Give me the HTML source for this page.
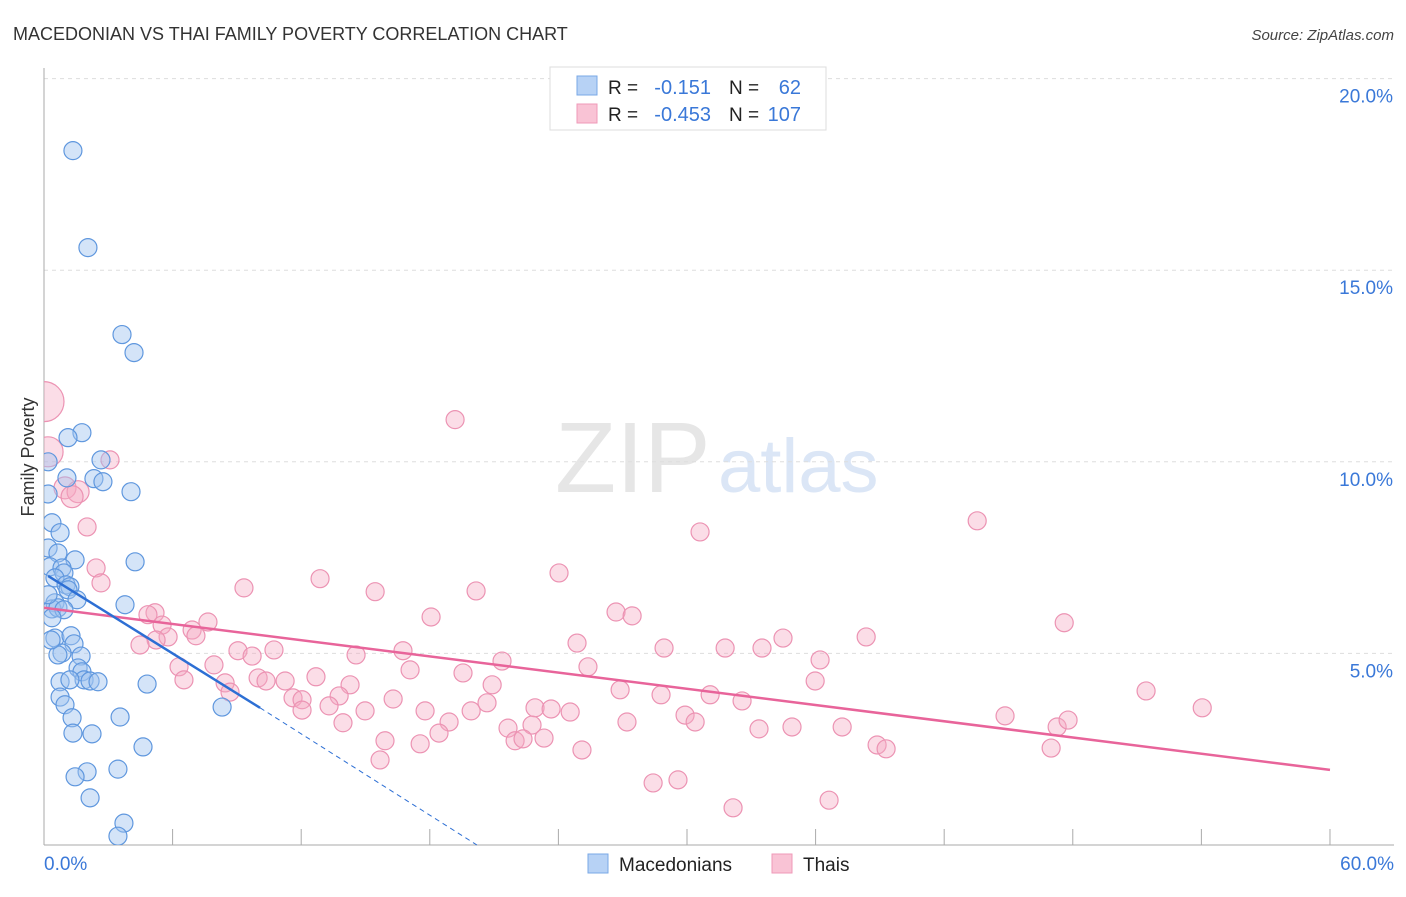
<!DOCTYPE html>
<html><head><meta charset="utf-8"><style>
body{margin:0;background:#fff;font-family:"Liberation Sans",sans-serif}
svg text{font-family:"Liberation Sans",sans-serif}
</style></head><body>
<svg id="c" width="1406" height="892"><defs><clipPath id="plot"><rect x="44" y="60" width="1360" height="785"/></clipPath></defs></svg>
<script>
const blueX=[1.35,2.05,3.64,4.20,1.77,1.12,0.19,2.66,1.07,2.33,2.75,4.06,0.19,0.37,0.75,0.19,0.65,1.45,4.25,0.28,0.84,0.93,0.51,1.03,1.21,1.12,1.54,0.51,0.37,0.65,0.93,3.78,0.37,0.51,1.26,1.40,0.84,0.65,1.73,1.59,1.77,1.87,0.75,1.21,2.15,2.52,4.81,0.75,0.98,8.31,1.31,3.55,1.35,2.24,4.62,2.01,1.45,3.45,2.15,3.73,3.45,0.33,0.19];
const blueY=[18.12,15.59,13.32,12.85,10.76,10.63,10.0,10.05,9.58,9.56,9.48,9.22,9.16,8.41,8.15,7.75,7.62,7.44,7.39,7.26,7.23,7.10,6.97,6.79,6.74,6.66,6.40,6.32,6.16,6.19,6.14,6.27,5.93,5.40,5.46,5.25,5.01,4.96,4.93,4.62,4.52,4.31,4.26,4.31,4.28,4.26,4.20,3.86,3.66,3.60,3.32,3.34,2.92,2.90,2.56,1.91,1.78,1.98,1.23,0.57,0.23,5.35,6.53];
const pinkX=[0,0.19,3.08,0.98,1.59,1.31,2.01,2.43,2.66,19.18,30.61,43.54,24.03,12.88,9.33,15.45,20.16,5.18,4.85,7.65,18.06,26.69,27.44,47.60,5.51,6.91,7.09,5.79,5.23,4.48,34.48,38.36,24.87,9.05,10.73,9.71,14.56,16.75,28.93,31.78,33.50,21.37,25.38,36.21,7.93,6.30,17.08,19.55,9.99,10.36,6.53,8.45,12.69,11.25,14.28,8.68,11.62,12.04,13.77,16.29,20.91,26.88,28.79,31.08,32.57,35.98,51.42,54.04,44.84,20.67,22.91,23.66,24.55,17.78,13.30,14.98,19.93,18.90,12.04,13.95,27.20,29.91,30.38,22.77,21.65,33.36,34.90,37.24,47.27,47.78,18.43,15.91,17.55,21.98,22.35,23.33,25.10,46.99,38.87,39.29,15.68,28.42,29.58,32.15,36.63];
const pinkY=[11.57,10.26,10.05,9.32,9.22,9.09,8.30,7.23,6.84,11.10,8.17,8.46,7.10,6.95,6.71,6.61,6.63,6.06,6.01,5.82,5.95,6.08,5.98,5.80,5.74,5.61,5.46,5.43,5.35,5.22,5.40,5.43,5.27,5.07,5.09,4.93,4.96,5.07,5.14,5.14,5.14,4.80,4.65,4.83,4.70,4.65,4.57,4.49,4.36,4.28,4.31,4.23,4.39,4.28,4.18,3.99,3.84,3.79,3.89,3.81,4.18,4.05,3.92,3.92,3.76,4.28,4.02,3.58,3.37,3.71,3.58,3.55,3.47,3.50,3.63,3.50,3.50,3.21,3.52,3.19,3.21,3.39,3.21,3.13,3.05,3.03,3.08,3.08,3.08,3.26,2.92,2.72,2.64,2.72,2.77,2.79,2.48,2.53,2.61,2.51,2.22,1.62,1.70,0.97,1.17];
const pinkR=[20,15,9,11,11,11];
const yTicks=[5,10,15,20];
const yTickLabels=["5.0%","10.0%","15.0%","20.0%"];
const blueTrend=[[0.19,7.02],[10.08,3.58],[20.2,0]];
const pinkTrend=[[0,6.19],[60,1.96]];

const NS="http://www.w3.org/2000/svg",svg=document.getElementById('c');
const X=v=>44+v*21.433, Y=v=>845-v*38.32;
function el(t,a,p){const e=document.createElementNS(NS,t);for(const k in a)e.setAttribute(k,a[k]);(p||svg).appendChild(e);return e;}
function tx(x,y,s,a,p){const e=el('text',Object.assign({x:x,y:y},a),p);e.textContent=s;return e;}

let t=tx(13,40,"MACEDONIAN VS THAI FAMILY POVERTY CORRELATION CHART",{'font-size':18,fill:'#333'});

t=tx(1394,40,"Source: ZipAtlas.com",{'font-size':15,fill:'#444','text-anchor':'end','font-style':'italic'});

t=tx(555,492,"ZIP",{'font-size':100,fill:'#e6e6e6','font-family':'Liberation Serif'});

t=tx(718,492,"atlas",{'font-size':76,fill:'#dbe6f6'});


yTicks.forEach((v,i)=>{
 let g=el('line',{x1:44,x2:1394,y1:Y(v),y2:Y(v),stroke:'#ddd','stroke-dasharray':'4,4'});
 
 let l=tx(1393,Y(v)+24,yTickLabels[i],{'font-size':19,fill:'#3a78d8','text-anchor':'end'});
 
});
let a=el('line',{x1:44,x2:44,y1:68,y2:845,stroke:'#aaa'});

a=el('line',{x1:44,x2:1394,y1:845,y2:845,stroke:'#aaa'});

for(let k=1;k<=10;k++){let m=el('line',{x1:X(k*6),x2:X(k*6),y1:829,y2:845,stroke:'#aaa'});
 }
t=tx(44,870,"0.0%",{'font-size':19,fill:'#3a78d8'});
t=tx(1394,870,"60.0%",{'font-size':19,fill:'#3a78d8','text-anchor':'end'});
t=tx(34,457,"Family Poverty",{'font-size':18,fill:'#333','text-anchor':'middle',transform:'rotate(-90 34 457)'});


const pg=el('g',{'clip-path':'url(#plot)'});

pinkX.forEach((v,i)=>{let c=el('circle',{cx:X(v),cy:Y(pinkY[i]),r:pinkR[i]||9,fill:'rgba(246,170,196,0.4)',stroke:'#ec93b3','stroke-width':1.2},pg);
 });
blueX.forEach((v,i)=>{let c=el('circle',{cx:X(v),cy:Y(blueY[i]),r:9,fill:'rgba(160,196,240,0.45)',stroke:'#5f97de','stroke-width':1.2},pg);
 });

let ln=el('line',{x1:X(pinkTrend[0][0]),y1:Y(pinkTrend[0][1]),x2:X(pinkTrend[1][0]),y2:Y(pinkTrend[1][1]),stroke:'#e8649a','stroke-width':2.5});

ln=el('line',{x1:X(blueTrend[0][0]),y1:Y(blueTrend[0][1]),x2:X(blueTrend[1][0]),y2:Y(blueTrend[1][1]),stroke:'#2d6fd4','stroke-width':2.5});

ln=el('line',{x1:X(blueTrend[1][0]),y1:Y(blueTrend[1][1]),x2:X(blueTrend[2][0]),y2:Y(blueTrend[2][1]),stroke:'#2d6fd4','stroke-width':1,'stroke-dasharray':'5,4'});


let lg=el('g',{});
el('rect',{x:550,y:67,width:276,height:63,fill:'#fff',stroke:'#ddd'},lg);
el('rect',{x:577,y:76,width:20,height:19,fill:'#b7d2f5',stroke:'#7aa8e6'},lg);
el('rect',{x:577,y:104,width:20,height:19,fill:'#f9c3d5',stroke:'#ef9ab8'},lg);
[[94,"-0.151","62"],[121,"-0.453","107"]].forEach(r=>{
 tx(608,r[0],"R =",{'font-size':19,fill:'#222'},lg);
 tx(711,r[0],r[1],{'font-size':20,fill:'#3a78d8','text-anchor':'end'},lg);
 tx(729,r[0],"N =",{'font-size':19,fill:'#222'},lg);
 tx(801,r[0],r[2],{'font-size':20,fill:'#3a78d8','text-anchor':'end'},lg);
});
let b=el('g',{});
el('rect',{x:588,y:854,width:20,height:19,fill:'#b7d2f5',stroke:'#7aa8e6'},b);
tx(619,871,"Macedonians",{'font-size':19,fill:'#222'},b);
el('rect',{x:772,y:854,width:20,height:19,fill:'#f9c3d5',stroke:'#ef9ab8'},b);
tx(803,871,"Thais",{'font-size':19,fill:'#222'},b);
</script>
</body></html>
